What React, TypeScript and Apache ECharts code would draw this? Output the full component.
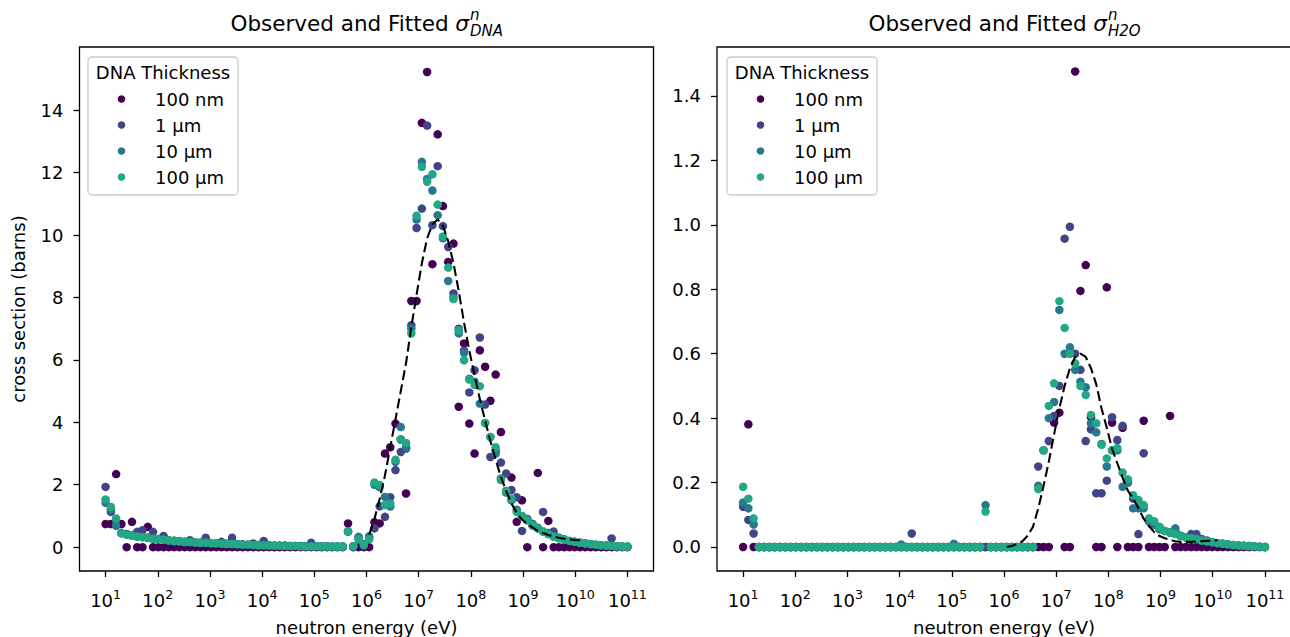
import React, { useEffect, useRef } from "react";
import * as echarts from "echarts";

// log10 of neutron energy (eV) for each observed point (100 log-spaced energies, 10 eV .. 100 GeV)
const ENERGY_EXP = [
  1.0, 1.101, 1.202, 1.303, 1.404, 1.505, 1.606, 1.707, 1.808, 1.909,
  2.01, 2.111, 2.212, 2.313, 2.414, 2.515, 2.616, 2.717, 2.818, 2.919,
  3.02, 3.121, 3.222, 3.323, 3.424, 3.525, 3.626, 3.727, 3.828, 3.929,
  4.03, 4.131, 4.232, 4.333, 4.434, 4.535, 4.636, 4.737, 4.838, 4.939,
  5.04, 5.141, 5.242, 5.343, 5.444, 5.545, 5.646, 5.747, 5.848, 5.949,
  6.051, 6.152, 6.253, 6.354, 6.455, 6.556, 6.657, 6.758, 6.859, 6.96,
  7.061, 7.162, 7.263, 7.364, 7.465, 7.566, 7.667, 7.768, 7.869, 7.97,
  8.071, 8.172, 8.273, 8.374, 8.475, 8.576, 8.677, 8.778, 8.879, 8.98,
  9.081, 9.182, 9.283, 9.384, 9.485, 9.586, 9.687, 9.788, 9.889, 9.99,
  10.091, 10.192, 10.293, 10.394, 10.495, 10.596, 10.697, 10.798, 10.899, 11.0,
];

const THICKNESS = ["100 nm", "1 µm", "10 µm", "100 µm"];
const COLORS = ["#440154", "#414487", "#2a788e", "#22a884"];

// ---- sigma_DNA (barns) ----
const DNA_100NM = [
  0.74, 0.74, 2.34, 0.74, 0, 0.81, 0, 0, 0.65, 0,
  0, 0, 0, 0, 0, 0, 0, 0, 0, 0,
  0, 0, 0, 0, 0, 0, 0, 0, 0, 0,
  0, 0, 0, 0, 0, 0, 0, 0, 0, 0,
  0, 0, 0, 0, 0, 0, 0.76, 0, 0, 0,
  0, 0.8, 0.76, 3.0, 3.2, 3.96, 3.45, 1.72, 7.89, 7.89,
  13.6, 15.23, 9.07, 13.23, 10.93, 9.14, 9.73, 4.5, 6.53, 3.96,
  3.0, 6.31, 5.78, 4.69, 5.53, 3.69, 1.8, 2.23, 0.81, 1.5,
  0, 0.7, 2.38, 0, 0.84, 0, 0, 0, 0, 0,
  0, 0, 0, 0, 0, 0, 0, 0, 0, 0,
];
const DNA_1UM = [
  1.93, 1.13, 0.8, 0.45, 0.42, 0.38, 0.49, 0.54, 0.3, 0.49,
  0.25, 0.36, 0.2, 0.18, 0.17, 0.15, 0.22, 0.14, 0.13, 0.3,
  0.12, 0.12, 0.17, 0.11, 0.3, 0.1, 0.09, 0.08, 0.12, 0.07,
  0.2, 0.06, 0.05, 0.05, 0.05, 0.04, 0.04, 0.04, 0.03, 0.14,
  0.03, 0.03, 0.03, 0.02, 0.02, 0.02, 0.5, 0.03, 0.3, 0.05,
  0.3, 0.6, 1.31, 0.97, 1.6, 2.47, 3.05, 3.16, 7.11, 10.23,
  10.85, 13.51, 10.32, 12.21, 10.29, 9.62, 8.13, 7.0, 6.3, 4.96,
  5.67, 6.72, 4.57, 2.89, 3.1, 2.71, 2.36, 1.83, 1.6, 0.52,
  0.9, 0.7, 0.6, 1.13, 0.45, 0.5, 0.3, 0.25, 0.2, 0.17,
  0.14, 0.12, 0.1, 0.08, 0.06, 0.05, 0.28, 0.03, 0.02, 0.01,
];
const DNA_10UM = [
  1.42, 1.2, 0.68, 0.45, 0.4, 0.37, 0.34, 0.32, 0.3, 0.27,
  0.26, 0.24, 0.22, 0.21, 0.2, 0.18, 0.17, 0.16, 0.15, 0.14,
  0.13, 0.12, 0.12, 0.11, 0.1, 0.09, 0.09, 0.08, 0.07, 0.07,
  0.06, 0.06, 0.05, 0.05, 0.05, 0.04, 0.04, 0.04, 0.03, 0.03,
  0.03, 0.03, 0.02, 0.02, 0.02, 0.02, 0.5, 0.03, 0.33, 0.1,
  0.35, 2.0, 1.92, 1.61, 1.3, 2.73, 3.85, 3.2, 7.0, 10.5,
  12.35, 11.8, 11.43, 10.64, 9.9, 8.53, 8.0, 6.85, 6.23, 5.4,
  5.3, 4.6, 3.98, 3.53, 3.0, 2.2, 1.75, 1.5, 1.2, 1.0,
  0.9, 0.75, 0.62, 0.5, 0.42, 0.35, 0.3, 0.25, 0.2, 0.17,
  0.14, 0.12, 0.1, 0.08, 0.06, 0.05, 0.04, 0.03, 0.02, 0.02,
];
const DNA_100UM = [
  1.53, 1.29, 0.92, 0.44, 0.4, 0.37, 0.34, 0.32, 0.29, 0.27,
  0.25, 0.24, 0.22, 0.2, 0.19, 0.17, 0.16, 0.15, 0.14, 0.14,
  0.13, 0.12, 0.11, 0.1, 0.1, 0.09, 0.08, 0.08, 0.07, 0.06,
  0.06, 0.05, 0.05, 0.05, 0.04, 0.04, 0.04, 0.03, 0.03, 0.03,
  0.03, 0.02, 0.02, 0.02, 0.02, 0.02, 0.51, 0.03, 0.25, 0.07,
  0.25, 2.07, 1.99, 1.35, 1.4, 2.8, 3.45, 3.34, 6.85, 10.62,
  12.19, 11.71, 11.95, 10.98, 9.96, 8.96, 7.95, 6.95, 5.99, 5.37,
  5.2, 5.16, 3.98, 3.53, 3.2, 2.15, 1.8, 1.55, 1.13, 1.0,
  0.85, 0.7, 0.6, 0.5, 0.42, 0.33, 0.28, 0.24, 0.2, 0.17,
  0.14, 0.12, 0.1, 0.08, 0.06, 0.05, 0.04, 0.03, 0.02, 0.02,
];

// ---- sigma_H2O (barns) ----
const H2O_100NM = [
  0, 0.381, 0, 0, 0, 0, 0, 0, 0, 0,
  0, 0, 0, 0, 0, 0, 0, 0, 0, 0,
  0, 0, 0, 0, 0, 0, 0, 0, 0, 0,
  0, 0, 0, 0, 0, 0, 0, 0, 0, 0,
  0, 0, 0, 0, 0, 0, 0, 0, 0, 0,
  0, 0, 0, 0, 0, 0, 0, 0, 0, 0.386,
  0.417, 0, 0, 1.476, 0.795, 0.875, 0.403, 0, 0, 0.806,
  0.386, 0, 0.37, 0, 0, 0, 0.392, 0, 0, 0,
  0, 0.407, 0, 0, 0, 0, 0, 0, 0, 0,
  0, 0, 0, 0, 0, 0, 0, 0, 0, 0,
];
const H2O_1UM = [
  0.125, 0.084, 0.042, 0, 0, 0, 0, 0, 0, 0,
  0, 0, 0, 0, 0, 0, 0, 0, 0, 0,
  0, 0, 0, 0, 0, 0, 0, 0, 0, 0,
  0, 0, 0.042, 0, 0, 0, 0, 0, 0, 0,
  0, 0, 0, 0, 0, 0, 0, 0, 0, 0,
  0, 0, 0, 0, 0, 0, 0.25, 0.3, 0.329, 0.407,
  0.5, 0.957, 0.994, 0.6, 0.55, 0.329, 0.365, 0.167, 0.167, 0.206,
  0.403, 0.332, 0.376, 0.2, 0.15, 0.04, 0.291, 0.08, 0.07, 0.06,
  0.05, 0.045, 0.05, 0.035, 0.03, 0.04, 0.04, 0.025, 0.02, 0.015,
  0.012, 0.01, 0.008, 0.006, 0.005, 0.004, 0.003, 0.002, 0.001, 0,
];
const H2O_10UM = [
  0.138, 0.12, 0.07, 0, 0, 0, 0, 0, 0, 0,
  0, 0, 0, 0, 0, 0, 0, 0, 0, 0,
  0, 0, 0, 0, 0, 0, 0, 0, 0, 0,
  0.008, 0, 0, 0, 0, 0, 0, 0, 0, 0,
  0.01, 0, 0, 0, 0, 0, 0.13, 0, 0, 0,
  0, 0, 0, 0, 0, 0, 0.19, 0.3, 0.4, 0.45,
  0.736, 0.6, 0.62, 0.55, 0.513, 0.496, 0.384, 0.356, 0.32, 0.25,
  0.3, 0.3, 0.187, 0.2, 0.12, 0.12, 0.12, 0.08, 0.07, 0.055,
  0.05, 0.045, 0.058, 0.035, 0.03, 0.028, 0.025, 0.02, 0.018, 0.015,
  0.012, 0.01, 0.008, 0.006, 0.005, 0.004, 0.003, 0.002, 0.001, 0,
];
const H2O_100UM = [
  0.187, 0.15, 0.089, 0, 0, 0, 0, 0, 0, 0,
  0, 0, 0, 0, 0, 0, 0, 0, 0, 0,
  0, 0, 0, 0, 0, 0, 0, 0, 0, 0,
  0, 0, 0, 0, 0, 0, 0, 0, 0, 0,
  0, 0, 0, 0, 0, 0, 0.11, 0, 0, 0,
  0, 0, 0, 0, 0, 0, 0.18, 0.3, 0.438, 0.508,
  0.763, 0.68, 0.6, 0.57, 0.5, 0.472, 0.41, 0.384, 0.317, 0.275,
  0.3, 0.307, 0.231, 0.21, 0.161, 0.146, 0.13, 0.089, 0.08, 0.063,
  0.05, 0.045, 0.04, 0.034, 0.03, 0.027, 0.025, 0.02, 0.018, 0.015,
  0.012, 0.01, 0.008, 0.006, 0.005, 0.004, 0.003, 0.002, 0.001, 0,
];

// fitted curves, evaluated at ENERGY_EXP[FIT_START .. FIT_START + 40]
const FIT_START = 50;
const DNA_FIT = [
  0.4, 0.9, 1.55, 2.3, 3.2, 4.1, 5.0, 5.9, 7.05, 8.1,
  9.1, 9.9, 10.35, 10.5, 10.3, 9.8, 9.1, 8.2, 7.2, 6.3,
  5.5, 4.75, 4.05, 3.4, 2.8, 2.25, 1.8, 1.4, 1.1, 0.88,
  0.75, 0.63, 0.52, 0.45, 0.39, 0.34, 0.3, 0.27, 0.25, 0.23,
  0.22,
];
const H2O_FIT = [
  0.0, 0.003, 0.01, 0.018, 0.035, 0.063, 0.12, 0.19, 0.265, 0.35,
  0.43, 0.5, 0.555, 0.59, 0.6, 0.59, 0.555, 0.505, 0.43, 0.37,
  0.305, 0.26, 0.215, 0.175, 0.15, 0.12, 0.088, 0.065, 0.046, 0.034,
  0.027, 0.022, 0.018, 0.016, 0.016, 0.016, 0.017, 0.018, 0.019, 0.02,
  0.021,
];

const X_TICK_EXP = [1, 2, 3, 4, 5, 6, 7, 8, 9, 10, 11];
const DNA_Y_TICKS = [0, 2, 4, 6, 8, 10, 12, 14];
const H2O_Y_TICKS = [0, 0.2, 0.4, 0.6, 0.8, 1.0, 1.2, 1.4];

const FONT = "DejaVu Sans";

export default function App() {
  const ref = useRef<HTMLDivElement>(null);

  useEffect(() => {
    if (!ref.current) return;
    const chart = echarts.init(ref.current, undefined, { renderer: "svg" });

    const panels = [
      { series: [DNA_100NM, DNA_1UM, DNA_10UM, DNA_100UM], fit: DNA_FIT },
      { series: [H2O_100NM, H2O_1UM, H2O_10UM, H2O_100UM], fit: H2O_FIT },
    ];

    const gridW = 574;
    const grids = [
      { left: 79.5, top: 47, width: gridW, height: 524 },
      { left: 717, top: 47, width: gridW, height: 524 },
    ];

    const xAxis = grids.map((_, i) => ({
      type: "value",
      gridIndex: i,
      min: 0.5,
      max: 11.5,
      splitLine: { show: false },
      axisLine: { show: false, onZero: false },
      axisTick: {
        show: true,
        length: 6,
        customValues: X_TICK_EXP,
        lineStyle: { color: "#000", width: 1.3 },
      },
      axisLabel: {
        customValues: X_TICK_EXP,
        margin: 17,
        color: "#000",
        formatter: (v: number) => `{b|10}{s|${v}}`,
        rich: {
          b: { fontSize: 18, fontFamily: FONT, color: "#000", lineHeight: 24, verticalAlign: "middle" },
          s: { fontSize: 12.6, fontFamily: FONT, color: "#000", lineHeight: 12, verticalAlign: "top" },
        },
      },
      name: "neutron energy (eV)",
      nameLocation: "middle",
      nameGap: 47,
      nameTextStyle: { fontSize: 18, fontFamily: FONT, color: "#000" },
    }));

    const yAxis = [
      {
        type: "value",
        gridIndex: 0,
        min: -0.765,
        max: 16.03,
        splitLine: { show: false },
        axisLine: { show: false, onZero: false },
        axisTick: { show: true, length: 6, customValues: DNA_Y_TICKS, lineStyle: { color: "#000", width: 1.3 } },
        axisLabel: {
          customValues: DNA_Y_TICKS,
          margin: 16,
          fontSize: 18,
          fontFamily: FONT,
          color: "#000",
          formatter: (v: number) => String(v),
        },
        name: "cross section (barns)",
        nameLocation: "middle",
        nameGap: 52,
        nameTextStyle: { fontSize: 18, fontFamily: FONT, color: "#000" },
      },
      {
        type: "value",
        gridIndex: 1,
        min: -0.0745,
        max: 1.552,
        splitLine: { show: false },
        axisLine: { show: false, onZero: false },
        axisTick: { show: true, length: 6, customValues: H2O_Y_TICKS, lineStyle: { color: "#000", width: 1.3 } },
        axisLabel: {
          customValues: H2O_Y_TICKS,
          margin: 16,
          fontSize: 18,
          fontFamily: FONT,
          color: "#000",
          formatter: (v: number) => v.toFixed(1),
        },
      },
    ];

    const series: any[] = [];
    panels.forEach((p, pi) => {
      p.series.forEach((vals, si) => {
        series.push({
          type: "scatter",
          name: THICKNESS[si],
          xAxisIndex: pi,
          yAxisIndex: pi,
          symbol: "circle",
          symbolSize: 8.5,
          itemStyle: { color: COLORS[si], opacity: 1 },
          data: vals.map((v, k) => [ENERGY_EXP[k], v]),
          z: 2 + si,
        });
      });
      series.push({
        type: "line",
        name: "fit",
        xAxisIndex: pi,
        yAxisIndex: pi,
        showSymbol: false,
        symbol: "none",
        lineStyle: { color: "#000", width: 2.1, type: [10, 4.4] },
        data: p.fit.map((v, i) => [ENERGY_EXP[FIT_START + i], v]),
        z: 10,
      });
    });

    const legendGraphic = (x0: number) => {
      const els: any[] = [
        {
          type: "rect",
          shape: { x: x0, y: 57, width: 150, height: 138, r: 4 },
          style: { fill: "rgba(255,255,255,0.8)", stroke: "#cccccc", lineWidth: 1.3 },
          z: 100,
        },
        {
          type: "text",
          x: x0 + 75,
          y: 72,
          style: {
            text: "DNA Thickness",
            fontSize: 18,
            fontFamily: FONT,
            fill: "#000",
            align: "center",
            verticalAlign: "middle",
            textAlign: "center",
            textVerticalAlign: "middle",
          },
          z: 101,
        },
      ];
      THICKNESS.forEach((name, i) => {
        const cy = 99 + i * 26;
        els.push({
          type: "circle",
          shape: { cx: x0 + 33.5, cy, r: 3.8 },
          style: { fill: COLORS[i] },
          z: 101,
        });
        els.push({
          type: "text",
          x: x0 + 67,
          y: cy,
          style: {
            text: name,
            fontSize: 18,
            fontFamily: FONT,
            fill: "#000",
            align: "left",
            verticalAlign: "middle",
            textAlign: "left",
            textVerticalAlign: "middle",
          },
          z: 101,
        });
      });
      return els;
    };

    const titleGraphic = (right: number, sub: string) => [
      {
        type: "text",
        x: right,
        y: 23,
        style: {
          text: "{a|Observed and Fitted }{g|σ}",
          rich: {
            a: { fontSize: 21.5, fontFamily: FONT, fill: "#000", color: "#000" },
            g: { fontSize: 21.5, fontFamily: FONT, fontStyle: "italic", fill: "#000", color: "#000" },
          },
          align: "right",
          verticalAlign: "middle",
          textAlign: "right",
          textVerticalAlign: "middle",
        },
      },
      {
        type: "text",
        x: right + 1,
        y: 15,
        style: {
          text: "n",
          fontSize: 15,
          fontStyle: "italic",
          fontFamily: FONT,
          fill: "#000",
          align: "left",
          verticalAlign: "middle",
          textAlign: "left",
          textVerticalAlign: "middle",
        },
      },
      {
        type: "text",
        x: right + 1,
        y: 31,
        style: {
          text: sub,
          fontSize: 15,
          fontStyle: "italic",
          fontFamily: FONT,
          fill: "#000",
          align: "left",
          verticalAlign: "middle",
          textAlign: "left",
          textVerticalAlign: "middle",
        },
      },
    ];

    chart.setOption({
      animation: false,
      backgroundColor: "#fff",
      textStyle: { fontFamily: FONT },
      grid: grids.map((g) => ({
        ...g,
        show: true,
        borderColor: "#000",
        borderWidth: 1.3,
        backgroundColor: "transparent",
        containLabel: false,
        outerBoundsMode: "none",
      })),
      xAxis,
      yAxis,
      series,
      graphic: [
        ...legendGraphic(88),
        ...legendGraphic(727),
        ...titleGraphic(469, "DNA"),
        ...titleGraphic(1107, "H2O"),
      ],
    });

    return () => chart.dispose();
  }, []);

  return (
    <div
      ref={ref}
      style={{ position: "absolute", left: 0, top: 0, width: 1290, height: 637, background: "#fff" }}
    />
  );
}
